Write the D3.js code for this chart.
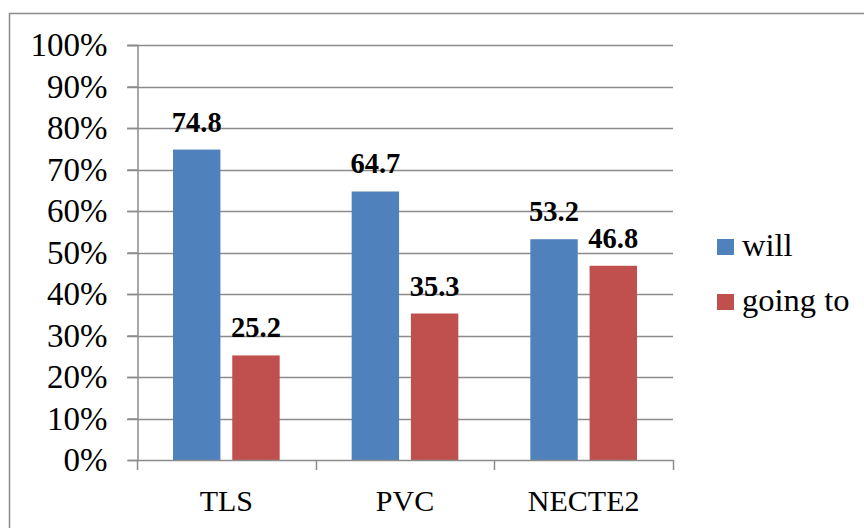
<!DOCTYPE html>
<html>
<head>
<meta charset="utf-8">
<script src="https://cdn.jsdelivr.net/npm/d3@7"></script>
<style>
  html, body { margin: 0; padding: 0; background: #fff; }
  svg { display: block; }
  text { font-family: "Liberation Serif", "DejaVu Serif", serif; fill: #000; }
</style>
</head>
<body>
<svg id="chart" width="864" height="528"></svg>
<script>
// Categories and series
const categories = ["TLS", "PVC", "NECTE2"];
const willValues = [74.8, 64.7, 53.2];
const goingToValues = [25.2, 35.3, 46.8];
const seriesNames = ["will", "going to"];
const seriesColors = ["#4F81BD", "#C0504D"];
const tickValues = [0, 10, 20, 30, 40, 50, 60, 70, 80, 90, 100];

const series = [willValues, goingToValues];

const svg = d3.select("#chart");

// Outer frame of the chart area
svg.append("rect")
  .attr("x", 9.5).attr("y", 13.5)
  .attr("width", 900).attr("height", 600)
  .attr("fill", "none")
  .attr("stroke", "#8c8c8c")
  .attr("stroke-width", 1.5);

const plot = { left: 137, right: 673, top: 45, bottom: 460 };

const x0 = d3.scaleBand()
  .domain(categories)
  .range([plot.left, plot.right])
  .paddingInner(0)
  .paddingOuter(0);

const x1 = d3.scaleBand()
  .domain(d3.range(series.length))
  .range([36, x0.bandwidth() - 36])
  .paddingInner(0.2);

const y = d3.scaleLinear().domain([0, 100]).range([plot.bottom, plot.top]);

// Horizontal gridlines
svg.append("g")
  .selectAll("line")
  .data(tickValues.filter(d => d > 0))
  .join("line")
  .attr("x1", plot.left - 10)
  .attr("x2", plot.right)
  .attr("y1", d => Math.round(y(d)) + 0.5)
  .attr("y2", d => Math.round(y(d)) + 0.5)
  .attr("stroke", "#8c8c8c")
  .attr("stroke-width", 1.5);

// Bars
const groups = svg.append("g")
  .selectAll("g")
  .data(categories)
  .join("g")
  .attr("transform", d => `translate(${x0(d)},0)`);

groups.selectAll("rect")
  .data((c, i) => series.map((s, k) => ({ k, v: s[i] })))
  .join("rect")
  .attr("x", d => x1(d.k))
  .attr("y", d => y(d.v))
  .attr("width", x1.bandwidth())
  .attr("height", d => y(0) - y(d.v))
  .attr("fill", d => seriesColors[d.k]);

// Value labels
groups.selectAll("text.value")
  .data((c, i) => series.map((s, k) => ({ k, v: s[i] })))
  .join("text")
  .attr("class", "value")
  .attr("x", d => x1(d.k) + x1.bandwidth() / 2)
  .attr("y", d => y(d.v) - 18)
  .attr("text-anchor", "middle")
  .attr("font-weight", "bold")
  .attr("font-size", 28.5)
  .text(d => d.v.toFixed(1));

// Y axis
const yAxis = d3.axisLeft(y)
  .tickValues(tickValues)
  .tickFormat(d => d + "%")
  .tickSize(10)
  .tickPadding(20);

const yg = svg.append("g")
  .attr("transform", `translate(${plot.left + 0.5},0)`)
  .call(yAxis);
yg.select(".domain").attr("stroke", "#8c8c8c").attr("stroke-width", 1.5);
yg.selectAll(".tick line").attr("stroke", "#8c8c8c").attr("stroke-width", 1.5);
yg.selectAll(".tick text")
  .attr("font-family", "Liberation Serif, DejaVu Serif, serif")
  .attr("font-size", 33)
  .attr("fill", "#000");

// X axis with boundary ticks between categories
const xAxisLine = svg.append("g");
xAxisLine.append("line")
  .attr("x1", plot.left).attr("x2", plot.right)
  .attr("y1", plot.bottom + 0.5).attr("y2", plot.bottom + 0.5)
  .attr("stroke", "#8c8c8c").attr("stroke-width", 1.5);
const boundaries = categories.map(c => x0(c)).concat([x0(categories[categories.length - 1]) + x0.bandwidth()]);
xAxisLine.selectAll("line.b")
  .data(boundaries)
  .join("line")
  .attr("class", "b")
  .attr("x1", d => Math.round(d) + 0.5).attr("x2", d => Math.round(d) + 0.5)
  .attr("y1", plot.bottom).attr("y2", plot.bottom + 10)
  .attr("stroke", "#8c8c8c").attr("stroke-width", 1.5);

svg.append("g")
  .selectAll("text")
  .data(categories)
  .join("text")
  .attr("x", d => x0(d) + x0.bandwidth() / 2)
  .attr("y", 511)
  .attr("text-anchor", "middle")
  .attr("font-size", 30)
  .text(d => d);

// Legend
const legend = svg.append("g").attr("transform", "translate(717,239)");
const items = legend.selectAll("g")
  .data(seriesNames)
  .join("g")
  .attr("transform", (d, i) => `translate(0,${i * 55})`);
items.append("rect")
  .attr("width", 17).attr("height", 16)
  .attr("fill", (d, i) => seriesColors[i]);
items.append("text")
  .attr("x", 25).attr("y", 17)
  .attr("font-size", 32.5)
  .text(d => d);
</script>
</body>
</html>
